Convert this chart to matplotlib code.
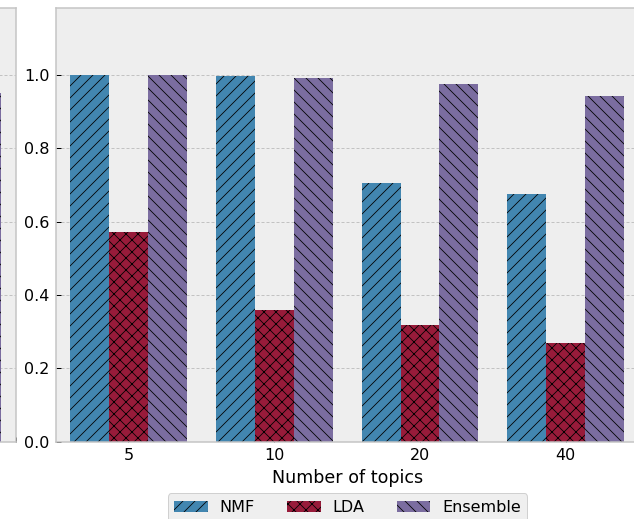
import matplotlib
matplotlib.use("Agg")
import matplotlib.pyplot as plt
import numpy as np

# Data
topics = ["5", "10", "20", "40"]
methods = ["NMF", "LDA", "Ensemble"]
nmf = [1.0, 0.998, 0.707, 0.675]
lda = [0.571, 0.358, 0.317, 0.270]
ensemble = [1.0, 0.992, 0.975, 0.943]
# neighbouring panel: only its last Ensemble bar falls inside the canvas
side_ensemble_last = 0.95

colors = ["#4286B0", "#981B3A", "#7B6DA0"]
hatches = ["//", "xx", "\\\\"]

DPI = 72
W, H = 634, 519
plt.rcParams.update({
    "font.family": "DejaVu Sans",
    "font.size": 16,
    "hatch.linewidth": 0.8,
    "hatch.color": "black",
})

fig = plt.figure(figsize=(W / DPI, H / DPI), dpi=DPI)

left_px, width_px = 55.6, 583.0
bottom_px, top_px = 441.7, 8.0
ymax = 1.183
ax_bottom = (H - bottom_px) / H
ax_height = (bottom_px - top_px) / H

ax = fig.add_axes([left_px / W, ax_bottom, width_px / W, ax_height])
ax_side = fig.add_axes([(16.0 - width_px) / W, ax_bottom, width_px / W, ax_height])


def style_axes(a):
    a.set_facecolor("#eeeeee")
    for s in a.spines.values():
        s.set_color("#c4c4c4")
        s.set_linewidth(1.5)
    a.set_axisbelow(True)
    a.yaxis.grid(True, linestyle=(0, (3, 2)), color="#c2c2c2", linewidth=1.0)
    a.tick_params(axis="both", direction="in", length=5, width=1,
                  color="black", labelsize=16, pad=6)
    a.set_xlim(-0.5, len(topics) - 0.5)
    a.set_ylim(0, ymax)
    a.set_yticks(np.arange(0, 1.01, 0.2))


style_axes(ax)
style_axes(ax_side)

x = np.arange(len(topics))
bw = 0.8 / 3
series = [nmf, lda, ensemble]
for i, (vals, name) in enumerate(zip(series, methods)):
    ax.bar(x + (i - 1) * bw, vals, width=bw, color=colors[i],
           hatch=hatches[i], edgecolor="black", linewidth=0, label=name)

ax_side.bar(x[-1] + bw, side_ensemble_last, width=bw, color=colors[2],
            hatch=hatches[2], edgecolor="black", linewidth=0)
ax_side.set_yticklabels([])
ax_side.set_xticklabels([])

ax.set_xticks(x)
ax.set_xticklabels(topics)
ax.set_yticklabels([f"{v:.1f}" for v in np.arange(0, 1.01, 0.2)])
ax.set_xlabel("Number of topics", fontsize=17.5, labelpad=6)

handles, labels = ax.get_legend_handles_labels()
leg = fig.legend(handles, labels, loc="upper center", ncol=3,
                 bbox_to_anchor=(347.5 / W, (H - 493.3) / H),
                 fontsize=16, frameon=True, fancybox=True,
                 handlelength=2.1, handletextpad=0.75, columnspacing=2.0,
                 borderaxespad=0)
leg.get_frame().set_facecolor("#eeeeee")
leg.get_frame().set_edgecolor("#cccccc")
leg.get_frame().set_alpha(0.9)

fig.savefig("out.png", dpi=DPI)
